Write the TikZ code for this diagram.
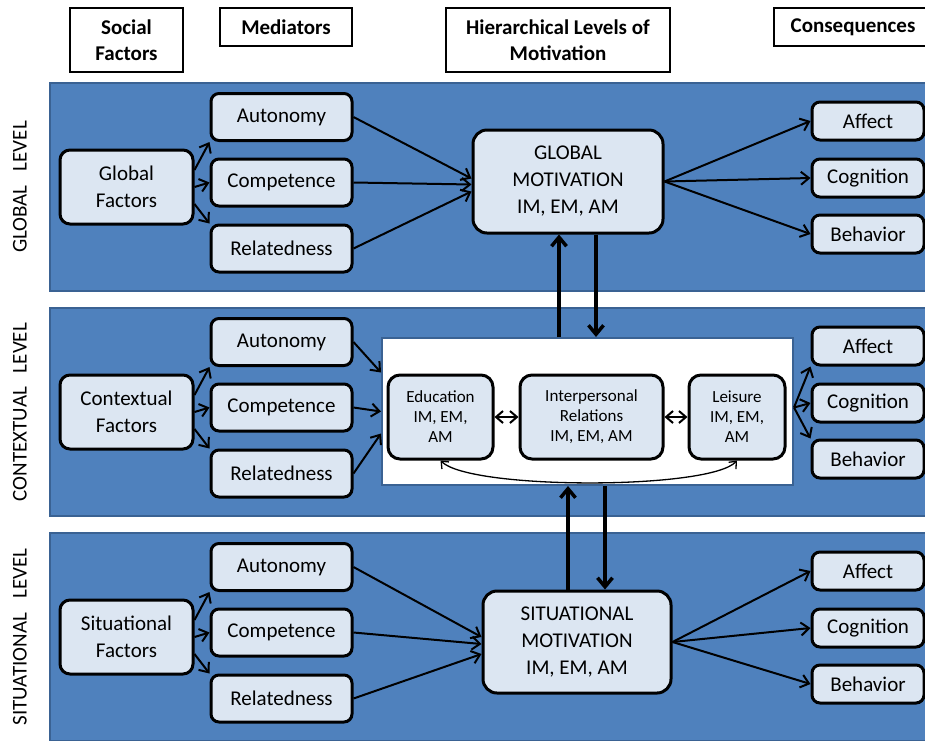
\documentclass[tikz,border=0pt]{standalone}
\usepackage{fontspec}
\setmainfont{Carlito}
\usetikzlibrary{arrows.meta}
\definecolor{bandblue}{HTML}{4F81BD}
\definecolor{bandedge}{HTML}{3A6293}
\definecolor{boxfill}{HTML}{DCE6F2}
\tikzset{
  band/.style={fill=bandblue,draw=bandedge,line width=2pt},
  hdr/.style={draw,fill=white,line width=1.3pt,align=center,inner sep=0pt,
    font=\bfseries\fontsize{21}{26}\selectfont},
  lvl/.style={rotate=90,font=\fontsize{21}{25}\selectfont},
  fbox/.style={draw,fill=boxfill,line width=3pt,rounded corners=10pt,align=center,
    inner sep=0pt,font=\fontsize{21}{27}\selectfont},
  mbox/.style={fbox,minimum width=141pt,minimum height=47pt,rounded corners=8pt},
  cbox/.style={fbox,minimum width=112pt,minimum height=38pt,rounded corners=8pt},
  sbox/.style={fbox,minimum height=84pt,rounded corners=12pt,
    font=\fontsize{17}{20}\selectfont},
  link/.style={line width=2pt,-{Straight Barb[length=8pt,width=13pt]}},
  dlink/.style={line width=2pt,{Straight Barb[length=7pt,width=12pt]}-{Straight Barb[length=7pt,width=12pt]}},
  vlink/.style={line width=3.5pt,-{Straight Barb[length=9pt,width=15pt]}}
}
\begin{document}
\begin{tikzpicture}[x=1pt,y=-1pt]
  \useasboundingbox (0,0) rectangle (925,740);

  % Column headings
  \node[hdr,minimum width=113pt,minimum height=64pt] (hsoc) at (126.5,40) {Social\\Factors};
  \node[hdr,minimum width=132pt,minimum height=38pt] (hmed) at (286,27) {Mediators};
  \node[hdr,minimum width=224pt,minimum height=64pt] (hhier) at (558,40) {Hierarchical Levels of\\Motivation};
  \node[hdr,minimum width=158pt,minimum height=38pt] (hcons) at (853,27) {Consequences};

  % One band per level: label, factors, mediators, consequences
  \foreach [count=\i] \t/\lab/\fac in {83/GLOBAL/Global,308/CONTEXTUAL/Contextual,533/SITUATIONAL/Situational} {
    % Blue band
    \draw[band] (50,\t) rectangle (940,\t+208);
    % Level name on the left
    \node[lvl] (lvl\i) at (20,\t+104) {\lab\hspace{14pt}LEVEL};
    % Social factors
    \node[fbox,minimum width=133pt,minimum height=74pt] (fac\i) at (126.5,\t+104) {\fac\\Factors};
    % Mediators
    \node[mbox] (aut\i) at (281.5,\t+34) {Autonomy};
    \node[mbox] (com\i) at (281.5,\t+99.5) {Competence};
    \node[mbox] (rel\i) at (281.5,\t+165.5) {Relatedness};
    % Consequences
    \node[cbox] (aff\i) at (868,\t+38) {Affect};
    \node[cbox] (cog\i) at (868,\t+95) {Cognition};
    \node[cbox] (beh\i) at (868,\t+151) {Behavior};
    % Factors to mediators
    \draw[link] ([yshift=17pt]fac\i.east) -- (aut\i.south west);
    \draw[link] (fac\i.east) -- (com\i.west);
    \draw[link] ([yshift=-17pt]fac\i.east) -- (rel\i.north west);
  }

  % Motivation at the global and situational levels
  \node[fbox,minimum width=190pt,minimum height=103pt,rounded corners=14pt] (gm) at (568,181.5) {GLOBAL\\MOTIVATION\\IM, EM, AM};
  \node[fbox,minimum width=188pt,minimum height=102pt,rounded corners=14pt] (sm) at (577,642) {SITUATIONAL\\MOTIVATION\\IM, EM, AM};

  % Contextual motivation panel
  \node[draw=bandedge,fill=white,line width=2pt,minimum width=411pt,minimum height=147pt,inner sep=0pt] (ctx) at (587.5,411.5) {};
  \node[sbox,minimum width=105pt] (edu) at (440.5,417) {Education\\IM, EM,\\AM};
  \node[sbox,minimum width=143pt] (ipr) at (591.5,417) {Interpersonal\\Relations\\IM, EM, AM};
  \node[sbox,minimum width=96pt] (lei) at (737,417) {Leisure\\IM, EM,\\AM};
  \draw[dlink] (edu) -- (ipr);
  \draw[dlink] (ipr) -- (lei);
  \draw[line width=1.3pt,{Straight Barb[length=6pt,width=10pt]}-{Straight Barb[length=6pt,width=10pt]}]
    (edu.south) .. controls (470,490) and (710,490) .. (lei.south);

  % Mediators to motivation
  \draw[link] (aut1.east) -- ([yshift=3pt]gm.west);
  \draw[link] (com1.east) -- ([yshift=-3pt]gm.west);
  \draw[link] (rel1.east) -- ([yshift=-10pt]gm.west);
  \draw[link] (aut2.east) -- ([yshift=39pt]ctx.west);
  \draw[link] (com2.east) -- (ctx.west);
  \draw[link] (rel2.east) -- ([yshift=-22pt]ctx.west);
  \draw[link] (aut3.east) -- ([yshift=5pt]sm.west);
  \draw[link] (com3.east) -- ([yshift=-2pt]sm.west);
  \draw[link] (rel3.east) -- ([yshift=-12pt]sm.west);

  % Motivation to consequences
  \draw[link] (gm.east) -- (aff1.west);
  \draw[link] (gm.east) -- (cog1.west);
  \draw[link] (gm.east) -- (beh1.west);
  \draw[link] ([yshift=4pt]ctx.east) -- (aff2.south west);
  \draw[link] ([yshift=4pt]ctx.east) -- (cog2.west);
  \draw[link] ([yshift=4pt]ctx.east) -- (beh2.north west);
  \draw[link] (sm.east) -- (aff3.west);
  \draw[link] (sm.east) -- (cog3.west);
  \draw[link] (sm.east) -- (beh3.west);

  % Links between the levels
  \draw[vlink] ([xshift=-9pt]gm.south |- ctx.north) -- ([xshift=-9pt]gm.south);
  \draw[vlink] ([xshift=28pt]gm.south) -- ([xshift=28pt]gm.south |- ctx.north);
  \draw[vlink] ([xshift=-9pt]sm.north) -- ([xshift=-9pt]sm.north |- ctx.south);
  \draw[vlink] ([xshift=28pt]sm.north |- ctx.south) -- ([xshift=28pt]sm.north);
\end{tikzpicture}
\end{document}
